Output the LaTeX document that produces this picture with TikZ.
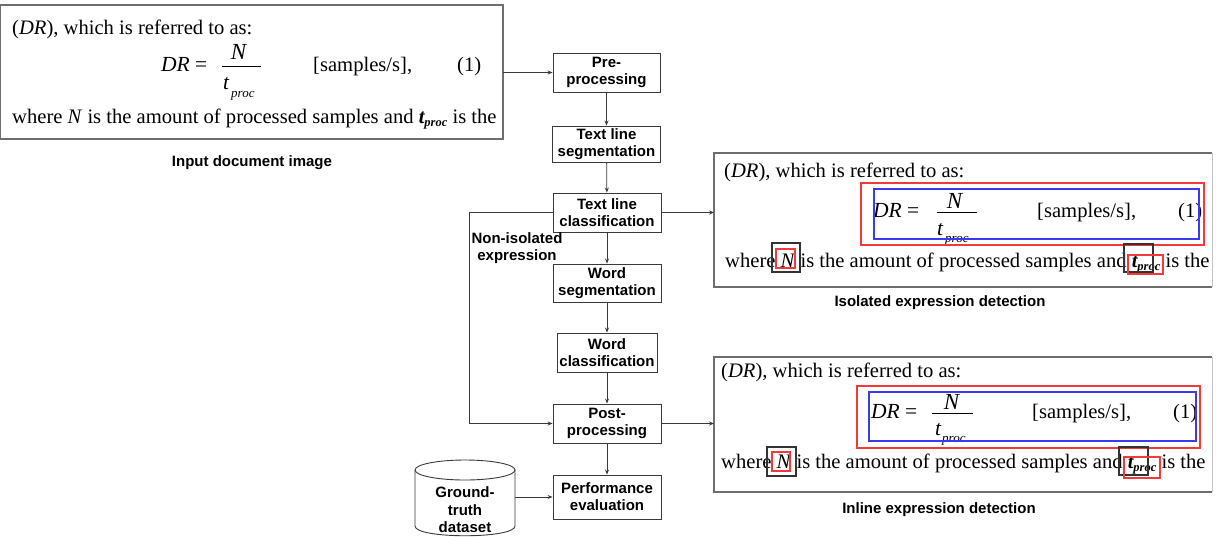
\documentclass[tikz,border=0pt]{standalone}
\usepackage{fontspec}
\setmainfont{Liberation Serif}
\newfontfamily\lblfont{Liberation Sans}
\usetikzlibrary{arrows.meta}

\definecolor{boxgray}{HTML}{3A3A3A}
\definecolor{framegray}{HTML}{6E6E6E}
\definecolor{markred}{HTML}{F23A3A}
\definecolor{markblue}{HTML}{3A3AF0}
\definecolor{markblack}{HTML}{333333}

% subscript "proc" used inside running text
\newcommand\tproc{{\bfseries\itshape t\raisebox{-3pt}{\fontsize{12.5}{14}\selectfont proc}}}

\begin{document}
\begin{tikzpicture}[x=1pt,y=-1pt,
  stepbox/.style={draw=boxgray, line width=0.9pt, inner sep=0pt, align=center,
    font=\lblfont\bfseries\fontsize{15}{17}\selectfont},
  lbl/.style={inner sep=0pt, align=center, font=\lblfont\bfseries\fontsize{15}{17}\selectfont},
  doc/.style={anchor=base west, inner sep=0pt, font=\fontsize{20.6}{24}\selectfont},
  eqn/.style={anchor=base west, inner sep=0pt, font=\fontsize{21.5}{24}\selectfont},
  sub/.style={anchor=base west, inner sep=0pt, font=\fontsize{13}{15}\selectfont\itshape},
  docframe/.style={draw=framegray, line width=1.2pt},
  fracbar/.style={draw=black, line width=0.9pt},
  redmark/.style={draw=markred, line width=1.1pt},
  bluemark/.style={draw=markblue, line width=1.1pt},
  blackmark/.style={draw=markblack, line width=1.1pt},
  arr/.style={draw=boxgray, line width=0.8pt, -{Stealth[length=5pt,width=4pt]}}]

\useasboundingbox (0,0) rectangle (1218,536);

% ---------------- input document image ----------------
\draw[docframe] (0.5,5) rectangle (503,139);
\node[doc] (inA) at (12,34) {(\textit{DR}), which is referred to as:};
\node[eqn] (inDR) at (161,71) {\textit{DR} =};
\node[eqn,anchor=base,font=\fontsize{23}{24}\selectfont] (inN) at (239,59) {\textit{N}};
\draw[fracbar] (222,66) -- (261,66);
\node[eqn] (inT) at (223,89) {\textit{t}};
\node[sub] (inP) at (231,97) {proc};
\node[doc] (inU) at (313,71) {[samples/s],};
\node[doc] (inE) at (457,71) {(1)};
\node[doc] (inB) at (12,123) {where \textit{N} is the amount of processed samples and \tproc{} is the};
\coordinate (inR) at (503,72.5);
\node[lbl] (inLbl) at (252,163) {Input document image};

% ---------------- isolated expression detection ----------------
\draw[docframe] (1212,153) -- (714,153) -- (714,287) -- (1212,287);
\draw[draw=framegray!40, line width=1pt] (1212,153) -- (1212,287);
\node[doc] (isA) at (724,177) {(\textit{DR}), which is referred to as:};
\node[eqn] (isDR) at (873,217) {\textit{DR} =};
\node[eqn,anchor=base,font=\fontsize{23}{24}\selectfont] (isN) at (955,208) {\textit{N}};
\draw[fracbar] (937,212) -- (977,212);
\node[eqn] (isT) at (937,235) {\textit{t}};
\node[sub] (isP) at (945,242) {proc};
\node[doc] (isU) at (1037,217) {[samples/s],};
\node[doc] (isE) at (1178,217) {(1)};
\node[doc] (isB) at (725,267) {where \textit{N} is the amount of processed samples and \tproc{} is the};
\draw[redmark] (861,183) rectangle (1204,245);
\draw[bluemark] (874,189) rectangle (1199,239);
\draw[blackmark] (772,243) rectangle (800,272);
\draw[redmark] (776,249) rectangle (795,268);
\draw[blackmark] (1124,244) rectangle (1153,272);
\draw[redmark] (1128,255) rectangle (1163,274);
\coordinate (isL) at (714,212.5);
\node[lbl] (isLbl) at (940,303) {Isolated expression detection};

% ---------------- inline expression detection ----------------
\draw[docframe] (1212,357) -- (714,357) -- (714,492) -- (1212,492);
\draw[draw=framegray!40, line width=1pt] (1212,357) -- (1212,492);
\node[doc] (ilA) at (721,377) {(\textit{DR}), which is referred to as:};
\node[eqn] (ilDR) at (871,418) {\textit{DR} =};
\node[eqn,anchor=base,font=\fontsize{23}{24}\selectfont] (ilN) at (952,409) {\textit{N}};
\draw[fracbar] (932,413) -- (973,413);
\node[eqn] (ilT) at (935,435) {\textit{t}};
\node[sub] (ilP) at (942,442) {proc};
\node[doc] (ilU) at (1032,418) {[samples/s],};
\node[doc] (ilE) at (1173,418) {(1)};
\node[doc] (ilB) at (721,468) {where \textit{N} is the amount of processed samples and \tproc{} is the};
\draw[redmark] (857,386) rectangle (1200,448);
\draw[bluemark] (869,392) rectangle (1196,441);
\draw[blackmark] (767,447) rectangle (796,476);
\draw[redmark] (772,452) rectangle (790,471);
\draw[blackmark] (1119,447) rectangle (1148,475);
\draw[redmark] (1124,457) rectangle (1160,478);
\coordinate (ilL) at (714,423.5);
\node[lbl] (ilLbl) at (939,510) {Inline expression detection};

% ---------------- processing pipeline ----------------
\node[stepbox, minimum width=107, minimum height=39] (pre) at (606.5,72.5) {Pre-\\processing};
\node[stepbox, minimum width=108, minimum height=36] (tls) at (606.5,144) {Text line\\segmentation};
\node[stepbox, minimum width=108, minimum height=39] (tlc) at (607,212.5) {Text line\\classification};
\node[stepbox, minimum width=108, minimum height=38] (ws) at (607,283) {Word\\segmentation};
\node[stepbox, minimum width=100, minimum height=39] (wc) at (607,352.5) {Word\\classification};
\node[stepbox, minimum width=108, minimum height=39] (pp) at (607,423.5) {Post-\\processing};
\node[stepbox, minimum width=108, minimum height=44] (pe) at (607,497) {Performance\\evaluation};

% ground-truth database cylinder
\draw[draw=boxgray, line width=0.9pt] (465,470) ellipse [x radius=50, y radius=10];
\draw[draw=boxgray, line width=0.9pt] (415,470) -- (415,526)
  .. controls (415,539) and (515,539) .. (515,526) -- (515,470);
\node[lbl, minimum width=100, minimum height=20] (gt) at (465,497) {};
\node[lbl] (gtA) at (465,492) {Ground-};
\node[lbl] (gtB) at (465,510) {truth};
\node[lbl] (gtC) at (465,527.5) {dataset};

% connectors
\draw[arr] (inR) -- (pre.west |- inR);
\draw[arr] (pre) -- (tls);
\draw[arr] (tls) -- (tlc);
\draw[arr] (tlc) -- (ws);
\draw[arr] (ws) -- (wc);
\draw[arr] (wc) -- (pp);
\draw[arr] (pp) -- (pe);
\draw[arr] (gt.east) -- (pe.west);
\draw[arr] (tlc.east) -- (isL);
\draw[arr] (pp.east) -- (ilL);
\coordinate (bend) at (469,0);
\draw[arr] (tlc.west) -- (bend |- tlc.west) -- (bend |- pp.west) -- (pp.west);
\node[lbl] (nonIso) at (517,248.5) {Non-isolated\\expression};

\end{tikzpicture}
\end{document}
